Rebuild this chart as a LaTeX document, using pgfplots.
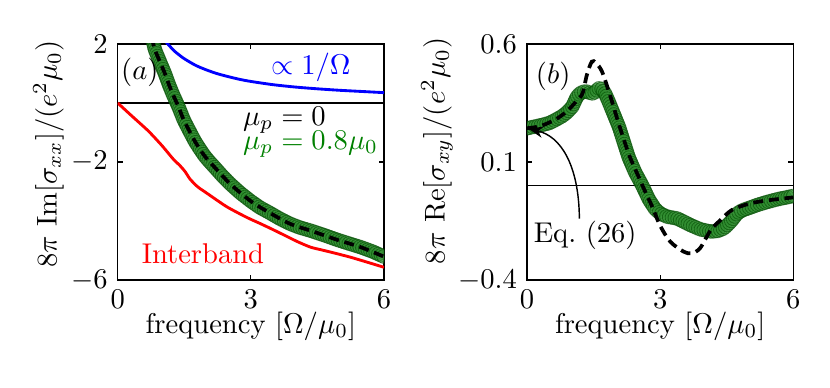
\documentclass[border=0pt]{standalone}
\usepackage{pgfplots}
\pgfplotsset{compat=1.18}
\usetikzlibrary{decorations.markings,arrows.meta}
\definecolor{mplgreen}{RGB}{0,128,0}
\definecolor{mkfill}{RGB}{45,140,45}
\definecolor{mkedge}{RGB}{0,75,0}
\tikzset{greenmarks/.style={draw=none, postaction={decorate},
  decoration={markings, mark=between positions 0 and 1 step 1pt with {%
    \draw[mkedge, line width=0.3pt, fill=mkfill, fill opacity=0.5, draw opacity=0.6] (0pt,0pt) circle (2.4pt);}}}}
\pgfplotsset{myax/.style={scale only axis, width=93.2pt, height=82.6pt,
  xmin=0, xmax=6, xtick={0,3,6}, tick align=inside, major tick length=1.8pt,
  axis line style={line width=0.5pt}, every tick/.style={black, line width=0.4pt},
  xlabel={frequency [$\Omega/\mu_0$]},
  xlabel style={at={(axis description cs:0.5,-0.195)}, anchor=center},
  clip=true}}
\begin{document}
\begin{tikzpicture}
\useasboundingbox (0,0) rectangle (290.5pt,135.8pt);
% ---------------- panel (a)
\begin{axis}[myax, at={(41.2pt,37.8pt)}, anchor=south west,
  ymin=-6, ymax=2, ytick={-6,-2,2},
  ylabel={$8\pi\ \mathrm{Im}[\sigma_{xx}]/(e^2\mu_0)$},
  ylabel style={at={(axis description cs:-0.26,0.534)}, anchor=center}]
\addplot[black, line width=0.4pt] coordinates {(0,0) (6,0)};
% 1/Omega
\addplot[blue, line width=1pt, smooth] coordinates {
(1.05,2.15) (1.1,2.05) (1.2,1.88) (1.3,1.73) (1.4,1.61) (1.5,1.50) (1.75,1.28)
(2.0,1.12) (2.25,0.99) (2.5,0.89) (2.75,0.80) (3.0,0.73) (3.5,0.62)
(4.0,0.54) (4.5,0.48) (5.0,0.43) (5.5,0.39) (6.0,0.35)};
% interband
\addplot[red, line width=1pt, smooth, tension=0.4] coordinates {
(0,0) (0.31,-0.43) (0.69,-0.95) (1.0,-1.45) (1.25,-1.90) (1.40,-2.12)
(1.52,-2.33) (1.63,-2.58) (1.80,-2.84) (2.01,-3.06) (2.46,-3.52) (2.91,-3.88)
(3.2,-4.08) (3.44,-4.25) (3.74,-4.47) (4.05,-4.70) (4.35,-4.89) (4.65,-5.00)
(5.25,-5.23) (6.0,-5.57)};
% mu_p = 0.8 (green markers)
\addplot[greenmarks] coordinates {
(0.80,2.05) (0.84,1.80) (0.95,1.40) (1.06,1.01) (1.16,0.60) (1.25,0.27)
(1.37,-0.13) (1.49,-0.58) (1.62,-0.96) (1.74,-1.30) (1.85,-1.56) (1.95,-1.78)
(2.05,-1.96) (2.16,-2.14) (2.35,-2.46) (2.54,-2.75) (2.77,-3.06) (3.0,-3.33)
(3.2,-3.54) (3.42,-3.72) (3.65,-3.92) (3.89,-4.10) (4.1,-4.22) (4.35,-4.33)
(4.65,-4.48) (4.95,-4.64) (5.2,-4.76) (5.48,-4.89) (5.75,-5.04) (6.0,-5.21)};
% mu_p = 0
\addplot[black, line width=1.3pt, dash pattern=on 3.5pt off 2pt, smooth] coordinates {
(0.76,2.25) (0.84,1.80) (0.95,1.40) (1.06,1.01) (1.16,0.60) (1.25,0.27)
(1.37,-0.13) (1.49,-0.58) (1.74,-1.30) (1.95,-1.78) (2.16,-2.14) (2.54,-2.75)
(3.0,-3.33) (3.42,-3.72) (3.89,-4.10) (4.35,-4.33) (4.95,-4.64) (5.48,-4.89) (6.0,-5.21)};
\node at (axis cs:0.5,1.05) {$(a)$};
\node[blue] at (axis cs:4.35,1.22) {$\propto 1/\Omega$};
\node[anchor=west, inner sep=0pt] at (axis cs:2.81,-0.58) {$\mu_p = 0$};
\node[anchor=west, inner sep=0pt, mplgreen] at (axis cs:2.81,-1.40) {$\mu_p = 0.8\mu_0$};
\node[red] at (axis cs:1.92,-5.12) {Interband};
\end{axis}
% ---------------- panel (b)
\begin{axis}[myax, at={(184.45pt,37.8pt)}, anchor=south west,
  ymin=-0.4, ymax=0.6, ytick={-0.4,0.1,0.6}, yticklabels={$-0.4$,$0.1$,$0.6$},
  ylabel={$8\pi\ \mathrm{Re}[\sigma_{xy}]/(e^2\mu_0)$},
  ylabel style={at={(axis description cs:-0.338,0.547)}, anchor=center}]
\addplot[black, line width=0.4pt] coordinates {(0,0) (6,0)};
\addplot[greenmarks] coordinates {
(0.0,0.243) (0.3,0.255) (0.5,0.265) (0.64,0.278) (0.8,0.295) (0.9,0.31) (1.02,0.334) (1.12,0.375)
(1.2,0.392) (1.28,0.398) (1.35,0.398) (1.43,0.392) (1.50,0.39) (1.56,0.402) (1.62,0.412) (1.68,0.41) (1.76,0.39) (1.84,0.356)
(1.95,0.305) (2.07,0.25) (2.18,0.185) (2.29,0.12) (2.44,0.055) (2.59,0.003) (2.75,-0.06) (2.89,-0.10) (3.0,-0.118)
(3.16,-0.132) (3.38,-0.139) (3.52,-0.152) (3.68,-0.167) (3.9,-0.185) (4.14,-0.195)
(4.30,-0.192) (4.44,-0.181) (4.59,-0.153) (4.74,-0.117) (4.86,-0.104) (5.0,-0.095)
(5.19,-0.082) (5.4,-0.070) (5.64,-0.058) (6.0,-0.044)};
\addplot[black, line width=1.3pt, dash pattern=on 3.5pt off 2pt, smooth, tension=0.5] coordinates {
(0,0.243) (0.3,0.252) (0.64,0.28) (0.9,0.315) (1.1,0.355) (1.25,0.39)
(1.35,0.47) (1.46,0.525) (1.55,0.52) (1.69,0.483) (1.88,0.377) (2.07,0.26)
(2.3,0.13) (2.48,0.052) (2.65,-0.02) (2.82,-0.089) (3.0,-0.17) (3.23,-0.238)
(3.53,-0.28) (3.71,-0.287) (3.9,-0.265) (4.14,-0.188) (4.36,-0.146)
(4.62,-0.103) (5.04,-0.075) (5.49,-0.061) (6.0,-0.05)};
\node at (axis cs:0.59,0.464) {$(b)$};
\node at (axis cs:1.31,-0.209) {Eq.~(26)};
\draw[line width=0.5pt, -{Stealth[length=5pt,width=4pt]}] (axis cs:1.18,-0.14)
  .. controls (axis cs:1.17,0.09) and (axis cs:0.75,0.21) .. (axis cs:0.04,0.24);
\end{axis}
\end{tikzpicture}
\end{document}
